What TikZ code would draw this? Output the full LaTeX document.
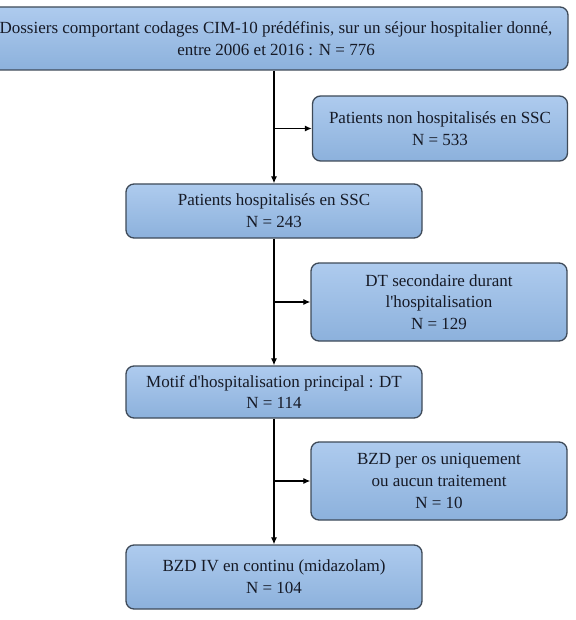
\documentclass[tikz,border=0pt]{standalone}
\usepackage{fontspec}
\setmainfont{Liberation Serif}[Ligatures=TeXOff]
\usetikzlibrary{arrows.meta}
\definecolor{boxtop}{HTML}{AECBEE}
\definecolor{boxbot}{HTML}{8CB1DC}
\definecolor{boxline}{HTML}{3E4A58}
\definecolor{txt}{HTML}{161A26}
\tikzset{
  flowbox/.style={draw=boxline, line width=1.3pt, rounded corners=8pt,
    top color=boxtop, bottom color=boxbot, text=txt, align=center,
    inner sep=0pt, font=\fontsize{17}{21.7}\selectfont},
  conn/.style={line width=1.2pt, draw=black, -{Latex[length=7pt,width=6pt]}},
}
\begin{document}
\begin{tikzpicture}[x=1pt,y=-1pt]
\useasboundingbox (0,0) rectangle (575,620);
\begin{scope}
\clip (0,0) rectangle (575,620);
\node[flowbox, minimum width=584pt, minimum height=63pt] (b1) at (276,38.5)
  {Dossiers comportant codages CIM-10 prédéfinis, sur un séjour hospitalier donné,\\ entre 2006 et 2016 : N = 776};
\end{scope}
\node[flowbox, minimum width=255pt, minimum height=65pt] (s1) at (440,128.5)
  {Patients non hospitalisés en SSC\\ N = 533};
\node[flowbox, minimum width=296pt, minimum height=54pt] (b2) at (274,211)
  {Patients hospitalisés en SSC\\ N = 243};
\node[flowbox, minimum width=256pt, minimum height=78pt] (s2) at (439,302)
  {DT secondaire durant\\ l'hospitalisation\\ N = 129};
\node[flowbox, minimum width=296pt, minimum height=52pt] (b3) at (274,392)
  {Motif d'hospitalisation principal : DT\\ N = 114};
\node[flowbox, minimum width=256pt, minimum height=78pt] (s3) at (439,481)
  {BZD per os uniquement\\ ou aucun traitement\\ N = 10};
\node[flowbox, minimum width=296pt, minimum height=64pt] (b4) at (274,577)
  {BZD IV en continu (midazolam)\\ N = 104};
\coordinate (j1) at (274,128.5);
\coordinate (j2) at (274,302);
\coordinate (j3) at (274,481);
\draw[conn] (b1.south -| b2.north) -- (b2.north);
\draw[conn] (j1) -- (s1.west);
\draw[conn] (b2.south) -- (b3.north);
\draw[conn] (j2) -- (s2.west);
\draw[conn] (b3.south) -- (b4.north);
\draw[conn] (j3) -- (s3.west);
\end{tikzpicture}
\end{document}
